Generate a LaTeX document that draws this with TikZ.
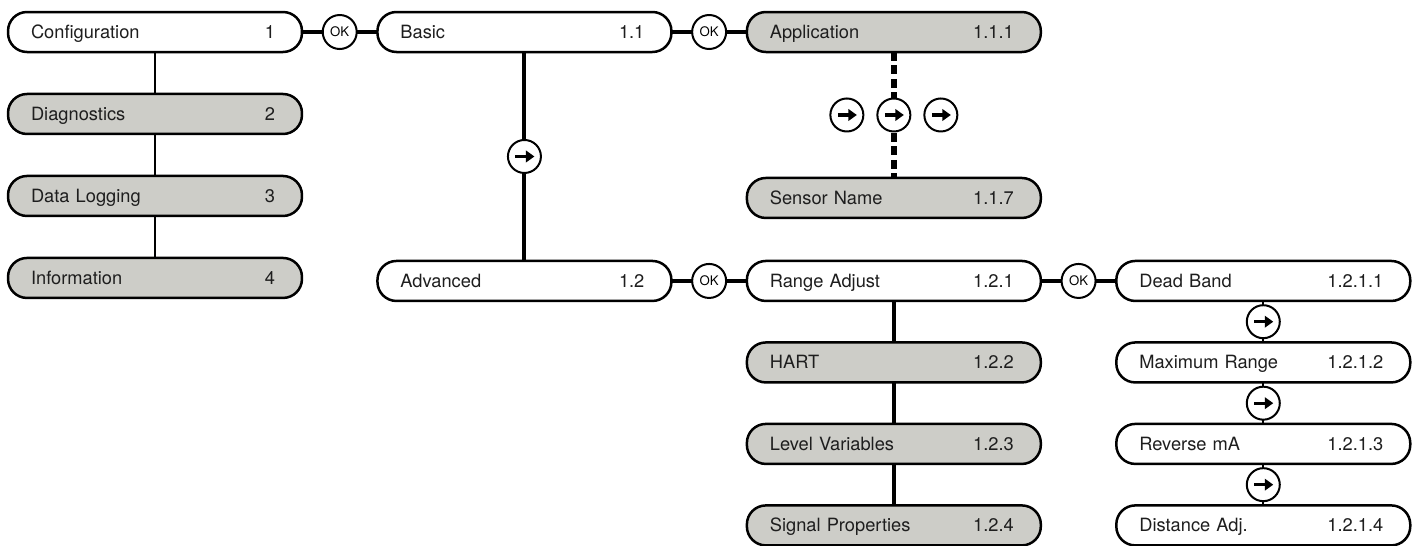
\documentclass[tikz,border=0pt]{standalone}
\usepackage{fontspec}
\setmainfont{TeX Gyre Heros}
\usetikzlibrary{arrows.meta,positioning}

\definecolor{menugray}{RGB}{205,205,200}
\definecolor{inkgray}{RGB}{30,30,30}

\newcommand{\menuline}[2]{#1\hfill #2\hspace*{0.08cm}}

\begin{document}
\begin{tikzpicture}[
          x = 0.02cm, y = -0.02cm, % one unit = one pixel
          node distance = 0.84cm and 1.51cm, % gaps between menu boxes
          menu/.style = {
            draw = black, line width = 0.05cm, rounded corners = 0.38cm,
            fill = white, minimum width = 5.88cm, minimum height = 0.8cm,
            text width = 4.96cm, align = left, inner xsep = 0pt, outer sep = 0pt,
            text height = 0.95em, text depth = 0.25em,
            font = \fontsize{10.4}{12}\selectfont, text = inkgray
          },
          shaded/.style = {menu, fill = menugray},
          okbtn/.style = {
            circle, draw = black, solid, line width = 0.04cm, fill = white,
            minimum size = 0.68cm, inner sep = 0pt, outer sep = 0pt,
            font = \fontsize{7.5}{8}\selectfont
          },
          nextbtn/.style = {
            circle, draw = black, solid, line width = 0.04cm, fill = white,
            minimum size = 0.66cm, inner sep = 0pt, outer sep = 0pt,
            path picture = {
              \draw[solid, line width = 0.065cm, -{Triangle[length = 0.17cm, width = 0.23cm]}]
                ([xshift = -0.18cm]path picture bounding box.center) --
                ([xshift = 0.2cm]path picture bounding box.center);
            }
          },
          link/.style = {line width = 0.08cm},
          thinlink/.style = {line width = 0.04cm},
          dashlink/.style = {line width = 0.11cm, dash pattern = on 0.18cm off 0.09cm}
          ]

          \useasboundingbox (0,0) rectangle (1416,545);

          % level 1
          \node[menu] (config) at (155,32) {\menuline{Configuration}{1}};
          \node[shaded] (diag) [below=of config] {\menuline{Diagnostics}{2}};
          \node[shaded] (logging) [below=of diag] {\menuline{Data Logging}{3}};
          \node[shaded] (info) [below=of logging] {\menuline{Information}{4}};

          % level 2
          \node[menu] (basic) [right=of config] {\menuline{Basic}{1.1}};
          \node[menu] (advanced) [below=4.18cm of basic] {\menuline{Advanced}{1.2}};

          % level 3
          \node[shaded] (app) [right=of basic] {\menuline{Application}{1.1.1}};
          \node[shaded] (sensor) [below=2.52cm of app] {\menuline{Sensor Name}{1.1.7}};
          \node[menu] (range) [right=of advanced] {\menuline{Range Adjust}{1.2.1}};
          \node[shaded] (hart) [below=0.83cm of range] {\menuline{HART}{1.2.2}};
          \node[shaded] (levelvar) [below=0.83cm of hart] {\menuline{Level Variables}{1.2.3}};
          \node[shaded] (signal) [below=0.83cm of levelvar] {\menuline{Signal Properties}{1.2.4}};

          % level 4
          \node[menu] (deadband) [right=of range] {\menuline{Dead Band}{1.2.1.1}};
          \node[menu] (maxrange) [below=0.83cm of deadband] {\menuline{Maximum Range}{1.2.1.2}};
          \node[menu] (reversema) [below=0.83cm of maxrange] {\menuline{Reverse mA}{1.2.1.3}};
          \node[menu] (distadj) [below=0.83cm of reversema] {\menuline{Distance Adj.}{1.2.1.4}};

          % connectors
          \draw[thinlink] (config) -- (diag);
          \draw[thinlink] (diag) -- (logging);
          \draw[thinlink] (logging) -- (info);

          \draw[link] (config) -- node[okbtn] {OK} (basic);
          \draw[link] (basic) -- node[okbtn] {OK} (app);
          \draw[link] (advanced) -- node[okbtn] {OK} (range);
          \draw[link] (range) -- node[okbtn] {OK} (deadband);

          \draw[link] (basic) -- node[nextbtn] {} (advanced);

          \draw[dashlink] (app) -- node[nextbtn] (scroll) {} (sensor);
          \node[nextbtn] (scrollleft) [left=0.28cm of scroll] {};
          \node[nextbtn] (scrollright) [right=0.28cm of scroll] {};

          \draw[link] (range) -- (hart);
          \draw[link] (hart) -- (levelvar);
          \draw[link] (levelvar) -- (signal);

          \draw[thinlink] (deadband) -- node[nextbtn] {} (maxrange);
          \draw[thinlink] (maxrange) -- node[nextbtn] {} (reversema);
          \draw[thinlink] (reversema) -- node[nextbtn] {} (distadj);

        \end{tikzpicture}
\end{document}
